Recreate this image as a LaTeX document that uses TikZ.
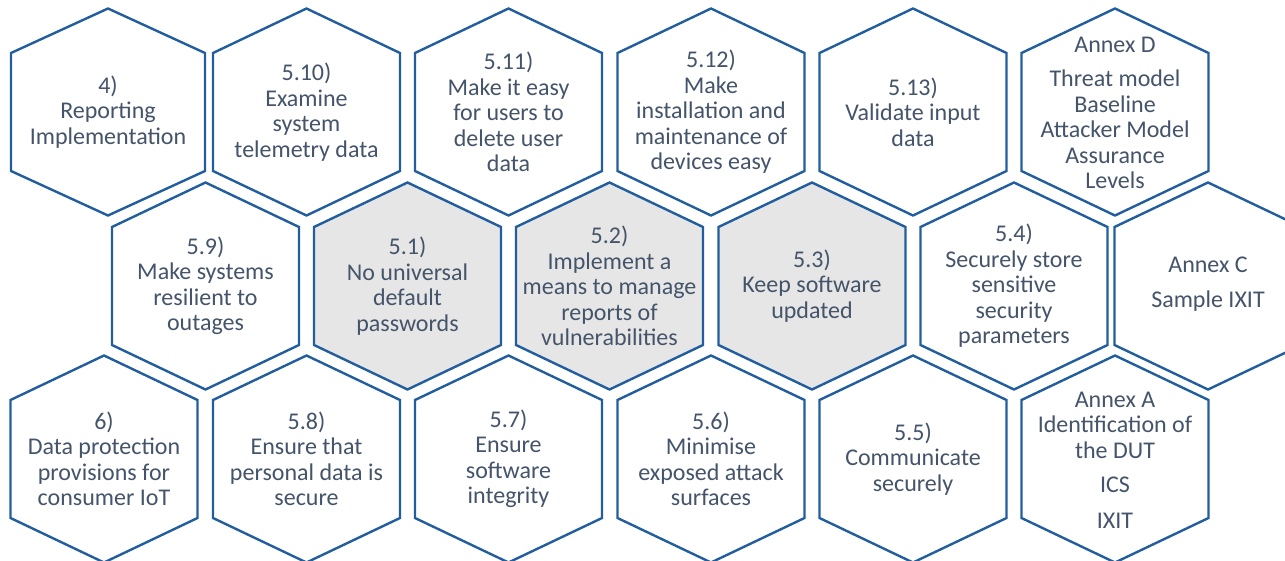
\documentclass[tikz,border=0pt]{standalone}
\usepackage{fontspec}
\setmainfont{Carlito}
\definecolor{hexblue}{HTML}{225E9E}
\definecolor{hexgray}{HTML}{E6E6E6}
\definecolor{hextext}{HTML}{44546A}
\tikzset{
  hexline/.style={draw=hexblue, line width=2.4pt, fill=white},
  grayhex/.style={fill=hexgray},
  plainhex/.style={},
  hexlabel/.style={align=center, text=hextext, inner sep=0pt,
    font=\fontsize{24}{25.5}\selectfont},
}
% #1 centre x, #2 centre y, #3 half width, #4 extra style
\newcommand\hexcell[4]{%
  \draw[hexline,#4] (#1,#2-103.5) -- (#1+#3,#2-59) -- (#1+#3,#2+59)
    -- (#1,#2+103.5) -- (#1-#3,#2+59) -- (#1-#3,#2-59) -- cycle;}
\begin{document}
\begin{tikzpicture}[x=1pt,y=-1pt]
\useasboundingbox (0,0) rectangle (1285,560);
\clip (0,0) rectangle (1285,560);
\fill[white] (0,0) rectangle (1285,560);

% top row
\hexcell{108}{112}{97}{plainhex}
\hexcell{306.5}{112}{93.5}{plainhex}
\hexcell{508.5}{112}{93.5}{plainhex}
\hexcell{711}{112}{93.5}{plainhex}
\hexcell{913}{112}{93.5}{plainhex}
\hexcell{1115}{112}{93.5}{plainhex}
\node[hexlabel] (t1) at (108,112) {4)\\Reporting\\Implementation};
\node[hexlabel] (t2) at (306.5,112) {5.10)\\Examine\\system\\telemetry data};
\node[hexlabel] (t3) at (508.5,112) {5.11)\\Make it easy\\for users to\\delete user\\data};
\node[hexlabel] (t4) at (711,112) {5.12)\\Make\\installation and\\maintenance of\\devices easy};
\node[hexlabel] (t5) at (913,112) {5.13)\\Validate input\\data};
\node[hexlabel] (t6) at (1115,113) {Annex D\\[9pt]Threat model\\Baseline\\Attacker Model\\Assurance\\Levels};

% middle row
\hexcell{205.5}{286}{93.5}{plainhex}
\hexcell{407.5}{286}{93.5}{grayhex}
\hexcell{609.5}{286}{93.5}{grayhex}
\hexcell{812}{286}{93.5}{grayhex}
\hexcell{1014}{286}{93.5}{plainhex}
\hexcell{1208}{286}{93.5}{plainhex}
\node[hexlabel] (m1) at (205.5,286) {5.9)\\Make systems\\resilient to\\outages};
\node[hexlabel] (m2) at (407.5,286) {5.1)\\No universal\\default\\passwords};
\node[hexlabel] (m3) at (609.5,286) {5.2)\\Implement a\\means to manage\\reports of\\vulnerabilities};
\node[hexlabel] (m4) at (812,286) {5.3)\\Keep software\\updated};
\node[hexlabel] (m5) at (1014,286) {5.4)\\Securely store\\sensitive\\security\\parameters};
\node[hexlabel] (m6) at (1208,284) {Annex C\\[9pt]Sample IXIT};

% bottom row
\hexcell{104}{459}{93.5}{plainhex}
\hexcell{306.5}{459}{93.5}{plainhex}
\hexcell{508.5}{459}{93.5}{plainhex}
\hexcell{711}{459}{93.5}{plainhex}
\hexcell{913}{459}{93.5}{plainhex}
\hexcell{1115}{459}{93.5}{plainhex}
\node[hexlabel] (b1) at (104,459) {6)\\Data protection\\provisions for\\consumer IoT};
\node[hexlabel] (b2) at (306.5,459) {5.8)\\Ensure that\\personal data is\\secure};
\node[hexlabel] (b3) at (508.5,459) {5.7)\\Ensure\\software\\integrity};
\node[hexlabel] (b4) at (711,459) {5.6)\\Minimise\\exposed attack\\surfaces};
\node[hexlabel] (b5) at (913,459) {5.5)\\Communicate\\securely};
\node[hexlabel] (b6) at (1115,460) {Annex A\\Identification of\\the DUT\\[9pt]ICS\\[10pt]IXIT};
\end{tikzpicture}
\end{document}
